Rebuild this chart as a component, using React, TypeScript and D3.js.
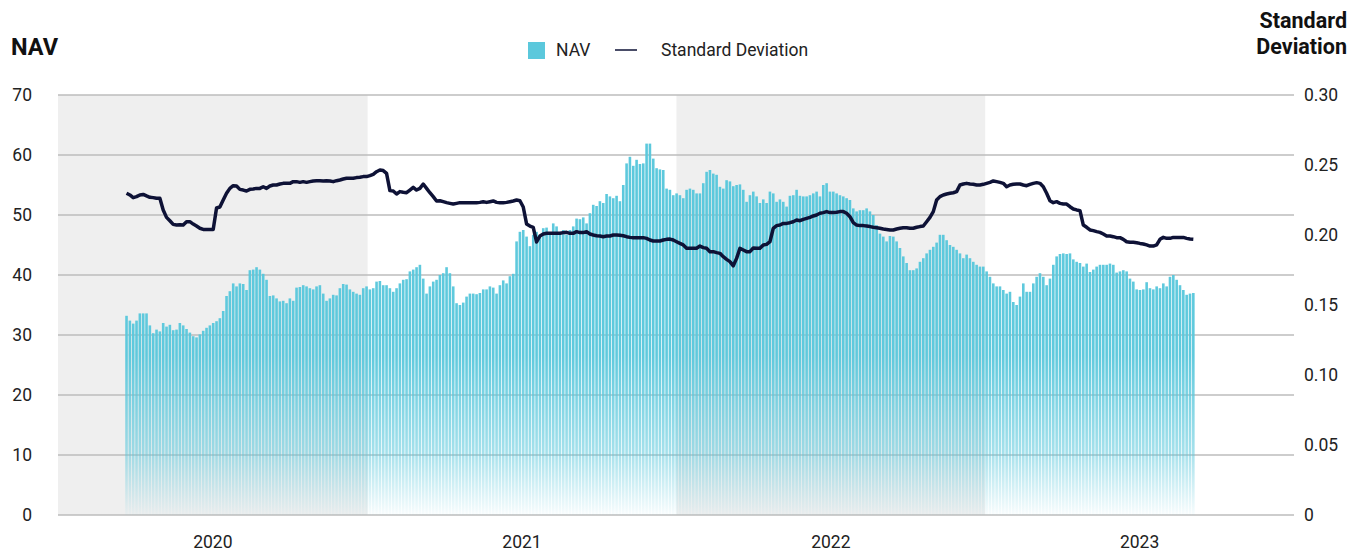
import React from 'react'
import * as d3 from 'd3'

// NAV and rolling standard deviation, sampled roughly every 4 days
const navValues = [
  33.2, 32.4, 31.9, 32.4, 33.6, 33.6, 33.6, 31.6, 30.3,
  30.9, 30.6, 32.0, 31.4, 31.7, 30.8, 30.9, 32.0, 31.6, 31.0,
  30.4, 29.8, 29.6, 30.1, 30.7, 31.2, 31.6, 32.0, 32.3, 32.8,
  34.0, 36.5, 37.3, 38.6, 38.1, 38.6, 38.5, 37.5, 40.8, 40.9,
  41.3, 40.9, 40.2, 39.2, 36.5, 36.6, 36.1, 35.6, 35.7, 35.3,
  36.1, 35.7, 37.9, 38.0,
  38.3, 38.1, 37.8, 37.6, 38.1, 38.3, 36.9, 35.7, 36.1, 36.7,
  36.6, 37.8, 38.5, 38.4, 37.6, 37.2, 36.9, 36.7, 37.8, 38.1,
  37.6, 37.8, 38.9, 39.0, 38.3, 38.3, 37.8, 37.2, 37.8, 38.6,
  39.2, 39.3, 40.6, 40.9, 41.3, 41.7, 39.4, 36.9, 38.1, 38.9,
  39.2, 40.0, 40.3, 41.3, 40.3, 38.1, 35.3, 35.0, 35.4, 36.4,
  36.9, 36.9, 36.8, 37.0,
  37.6, 37.6, 38.1, 37.9, 36.9, 38.3, 39.1, 38.6, 39.8, 40.2,
  45.6, 47.2, 47.5, 46.4, 44.8, 46.7, 47.2, 46.4, 47.8, 47.9,
  46.9, 48.6, 48.1, 46.9, 47.5, 46.7, 47.5, 48.1, 49.4, 49.3,
  49.6, 48.6, 50.3, 51.7, 51.5, 52.3, 52.0, 53.5, 53.1, 52.8,
  53.2, 52.3, 55.0, 58.6, 59.7, 58.2, 59.2, 58.5, 58.6, 61.9,
  61.9, 59.4, 57.8, 57.6,
  57.5, 54.4, 54.2, 53.3, 53.6, 53.3, 52.8, 54.2, 54.4, 54.2,
  53.6, 53.6, 55.3, 57.2, 57.5, 56.9, 56.7, 54.7, 54.4, 55.8,
  55.6, 54.8, 55.0, 55.1, 54.2, 52.2, 53.3, 53.9, 53.1, 52.0,
  52.6, 52.0, 53.9, 53.6, 52.2, 52.6, 52.2, 51.4, 53.2, 53.3,
  54.2, 53.2, 53.1, 53.1, 53.3, 53.6, 53.9, 53.1, 55.0, 55.3,
  53.9, 53.9, 53.6, 53.3,
  53.1, 52.8, 52.5, 51.1, 50.6, 50.8, 50.8, 51.1, 50.6, 50.0,
  48.3, 46.9, 46.4, 45.6, 46.5, 46.4, 45.6, 44.5, 43.1, 42.0,
  40.8, 40.8, 41.1, 42.2, 42.8, 43.6, 44.2, 44.7, 45.4, 46.7,
  46.7, 45.8, 45.0, 44.7, 44.2, 43.6, 42.8, 43.4, 42.8, 42.2,
  41.7, 41.4, 41.4, 40.6, 39.7, 38.6, 38.1, 38.1, 37.5, 36.9,
  37.2, 35.5, 35.0, 36.4,
  38.6, 37.2, 37.2, 38.6, 39.7, 40.3, 39.7, 38.3, 39.4, 41.7,
  43.1, 43.5, 43.6, 43.5, 43.6, 42.6, 42.2, 42.0, 41.4, 41.9,
  40.5, 40.9, 41.4, 41.7, 41.7, 41.7, 41.9, 41.7, 40.4, 40.6,
  40.8, 40.6, 39.4, 38.9, 37.6, 37.5, 37.6, 38.8, 37.8, 37.6,
  38.1, 37.8, 38.6, 38.1, 39.7, 40.0, 39.2, 38.3, 37.5, 36.7,
  36.9, 37.0,
]

const sdValues = [
  0.2298, 0.2286, 0.2267, 0.2274, 0.2286, 0.2290, 0.2279, 0.2269, 0.2267,
  0.2262, 0.2262, 0.2179, 0.2126, 0.2102, 0.2076, 0.2071, 0.2074, 0.2071, 0.2095,
  0.2095, 0.2078, 0.2064, 0.2048, 0.2040, 0.2040, 0.2040, 0.2040, 0.2193, 0.2200,
  0.2250, 0.2298, 0.2333, 0.2352, 0.2350, 0.2326, 0.2321, 0.2314, 0.2326, 0.2329,
  0.2333, 0.2333, 0.2345, 0.2333, 0.2350, 0.2357, 0.2357, 0.2364, 0.2369, 0.2369,
  0.2369, 0.2381, 0.2381, 0.2376,
  0.2381, 0.2376, 0.2381, 0.2386, 0.2388, 0.2388, 0.2386, 0.2388, 0.2386, 0.2381,
  0.2388, 0.2393, 0.2400, 0.2405, 0.2405, 0.2405, 0.2410, 0.2412, 0.2417, 0.2417,
  0.2424, 0.2433, 0.2452, 0.2464, 0.2460, 0.2440, 0.2317, 0.2314, 0.2293, 0.2310,
  0.2305, 0.2302, 0.2321, 0.2340, 0.2321, 0.2333, 0.2364, 0.2333, 0.2302, 0.2274,
  0.2243, 0.2245, 0.2238, 0.2231, 0.2226, 0.2221, 0.2226, 0.2231, 0.2231, 0.2231,
  0.2231, 0.2231, 0.2231, 0.2233,
  0.2238, 0.2233, 0.2238, 0.2243, 0.2233, 0.2231, 0.2231, 0.2233, 0.2238, 0.2243,
  0.2250, 0.2245, 0.2200, 0.2079, 0.2064, 0.2055, 0.1950, 0.1993, 0.2007, 0.2012,
  0.2012, 0.2012, 0.2012, 0.2012, 0.2017, 0.2019, 0.2012, 0.2012, 0.2024, 0.2017,
  0.2017, 0.2024, 0.2007, 0.2000, 0.1995, 0.1993, 0.1988, 0.1993, 0.1993, 0.2000,
  0.2000, 0.1998, 0.1995, 0.1988, 0.1983, 0.1981, 0.1981, 0.1981, 0.1981, 0.1976,
  0.1964, 0.1957, 0.1957, 0.1957,
  0.1964, 0.1969, 0.1971, 0.1964, 0.1952, 0.1940, 0.1929, 0.1905, 0.1905, 0.1905,
  0.1905, 0.1921, 0.1910, 0.1905, 0.1881, 0.1881, 0.1874, 0.1869, 0.1845, 0.1826,
  0.1810, 0.1780, 0.1833, 0.1905, 0.1893, 0.1881, 0.1881, 0.1907, 0.1905, 0.1905,
  0.1929, 0.1933, 0.1952, 0.2048, 0.2067, 0.2071, 0.2083, 0.2083, 0.2088, 0.2095,
  0.2107, 0.2102, 0.2112, 0.2119, 0.2126, 0.2136, 0.2143, 0.2155, 0.2160, 0.2167,
  0.2160, 0.2160, 0.2162, 0.2167,
  0.2167, 0.2155, 0.2131, 0.2088, 0.2071, 0.2067, 0.2067, 0.2064, 0.2060, 0.2055,
  0.2052, 0.2048, 0.2043, 0.2040, 0.2036, 0.2036, 0.2043, 0.2048, 0.2052, 0.2052,
  0.2048, 0.2048, 0.2055, 0.2060, 0.2064, 0.2095, 0.2126, 0.2167, 0.2250, 0.2274,
  0.2286, 0.2293, 0.2298, 0.2302, 0.2310, 0.2357, 0.2364, 0.2369, 0.2364, 0.2362,
  0.2357, 0.2357, 0.2362, 0.2369, 0.2376, 0.2386, 0.2381, 0.2376, 0.2369, 0.2345,
  0.2357, 0.2362, 0.2364, 0.2364,
  0.2357, 0.2352, 0.2362, 0.2369, 0.2374, 0.2369, 0.2345, 0.2298, 0.2245, 0.2231,
  0.2238, 0.2226, 0.2221, 0.2221, 0.2202, 0.2186, 0.2179, 0.2174, 0.2071, 0.2055,
  0.2036, 0.2031, 0.2024, 0.2019, 0.2007, 0.1993, 0.1993, 0.1988, 0.1981, 0.1981,
  0.1969, 0.1952, 0.1948, 0.1948, 0.1945, 0.1940, 0.1936, 0.1929, 0.1921, 0.1921,
  0.1929, 0.1969, 0.1983, 0.1976, 0.1976, 0.1983, 0.1983, 0.1983, 0.1983, 0.1976,
  0.1971, 0.1969,
]

const firstDate = new Date(2020, 2, 22)
const lastDate = new Date(2023, 8, 4)
const years = [2020, 2021, 2022, 2023]
const navTicks = [0, 10, 20, 30, 40, 50, 60, 70]
const sdTicks = [0, 0.05, 0.1, 0.15, 0.2, 0.25, 0.3]

const W = 1362
const H = 552
const left = 58
const right = 1294
const top = 95
const bottom = 515

const barColor = '#5bc8dc'
const lineColor = '#0e1236'
const font = 'Roboto, "Noto Sans", sans-serif'
const labelSize = 17.5

export default function App() {
  const n = navValues.length
  const dayStep = (lastDate.getTime() - firstDate.getTime()) / (n - 1)
  const dates = navValues.map((_, i) => new Date(firstDate.getTime() + i * dayStep))

  const x = d3.scaleTime()
    .domain([new Date(2020, 0, 1), new Date(2024, 0, 1)])
    .range([left, right])
  const yNav = d3.scaleLinear().domain([0, 70]).range([bottom, top])
  const ySd = d3.scaleLinear().domain([0, 0.3]).range([bottom, top])

  const barW = 2.6
  const sdLine = d3.line<number>()
    .x((_, i) => x(dates[i]))
    .y(d => ySd(d))

  return (
    <svg width={W} height={H} style={{ position: 'absolute', left: 0, top: 0 }} fontFamily={font}>
      <defs>
        <linearGradient id="navFade" gradientUnits="userSpaceOnUse" x1="0" y1={top} x2="0" y2={bottom}>
          <stop offset="0" stopColor={barColor} stopOpacity={1} />
          <stop offset="0.62" stopColor={barColor} stopOpacity={0.97} />
          <stop offset="0.85" stopColor={barColor} stopOpacity={0.55} />
          <stop offset="1" stopColor={barColor} stopOpacity={0.04} />
        </linearGradient>
      </defs>

      {/* alternating year bands */}
      {years.map((yr, i) => (
        <rect key={yr}
          x={x(new Date(yr, 0, 1))}
          y={top}
          width={x(new Date(yr + 1, 0, 1)) - x(new Date(yr, 0, 1))}
          height={bottom - top}
          fill={i % 2 === 0 ? '#efefef' : 'none'} />
      ))}

      {/* gridlines */}
      {navTicks.map(t => (
        <line key={t} x1={left} x2={right} y1={yNav(t)} y2={yNav(t)} stroke="#bcbcbc" strokeWidth={1.5} />
      ))}

      {/* NAV bars */}
      {navValues.map((v, i) => (
        <rect key={i}
          x={x(dates[i]) - barW / 2}
          y={yNav(v)}
          width={barW}
          height={yNav(0) - yNav(v)}
          fill="url(#navFade)" />
      ))}

      {/* standard deviation */}
      <path d={sdLine(sdValues) || ''} fill="none" stroke={lineColor} strokeWidth={3.5} strokeLinejoin="round" />

      {/* left axis */}
      {navTicks.map(t => (
        <text key={t} x={32} y={yNav(t)} dy="0.35em" textAnchor="end" fontSize={labelSize} fill="#222">{t}</text>
      ))}
      {/* right axis */}
      {sdTicks.map(t => (
        <text key={t} x={1304} y={ySd(t)} dy="0.35em" textAnchor="start" fontSize={labelSize} fill="#222">
          {t === 0 ? '0' : d3.format('.2f')(t)}
        </text>
      ))}
      {/* year labels */}
      {years.map(yr => (
        <text key={yr}
          x={(x(new Date(yr, 0, 1)) + x(new Date(yr + 1, 0, 1))) / 2}
          y={548} textAnchor="middle" fontSize={labelSize} fill="#222">{yr}</text>
      ))}

      {/* axis titles */}
      <text x={11} y={55} fontSize={23.5} fontWeight="bold" fill="#111">NAV</text>
      <text x={1347} y={28} fontSize={21.5} fontWeight="bold" fill="#111" textAnchor="end">Standard</text>
      <text x={1347} y={54} fontSize={21.5} fontWeight="bold" fill="#111" textAnchor="end">Deviation</text>

      {/* legend */}
      <rect x={528} y={42} width={17} height={17} fill={barColor} />
      <text x={556} y={56} fontSize={labelSize} fill="#222">NAV</text>
      <line x1={615} x2={637} y1={50} y2={50} stroke={lineColor} strokeWidth={1.5} />
      <text x={661} y={56} fontSize={labelSize} fill="#222">Standard Deviation</text>
    </svg>
  )
}
